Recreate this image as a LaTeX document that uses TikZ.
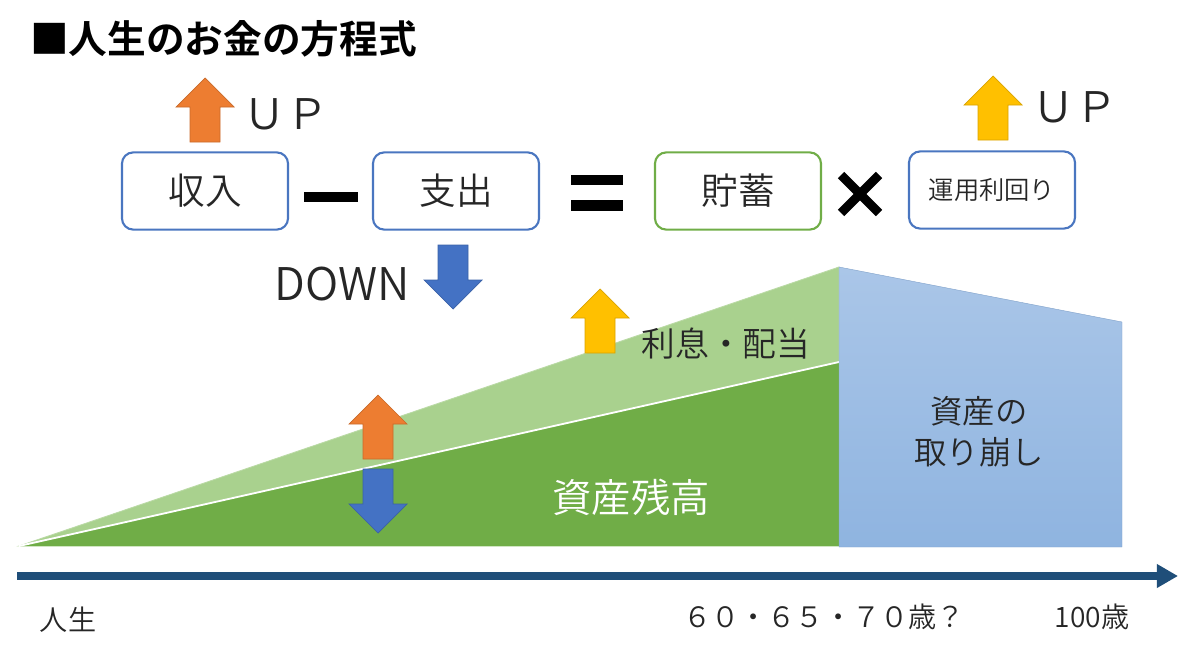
\documentclass[tikz,border=0pt]{standalone}
\usepackage{fontspec}
\IfFontExistsTF{Noto Sans CJK JP DemiLight}
  {\setmainfont{Noto Sans CJK JP DemiLight}[BoldFont={Noto Sans CJK JP Bold}]}
  {\IfFontExistsTF{Noto Sans CJK JP Light}
    {\setmainfont{Noto Sans CJK JP Light}[BoldFont={Noto Sans CJK JP Bold}]}
    {\setmainfont{Noto Sans CJK JP}}}
\usepackage{tikz}
\usetikzlibrary{arrows.meta, positioning, calc}
\definecolor{arrorange}{RGB}{237,125,49}
\definecolor{arrblue}{RGB}{68,114,196}
\definecolor{arryellow}{RGB}{255,192,0}
\definecolor{boxblue}{RGB}{74,118,192}
\definecolor{boxgreen}{RGB}{112,173,71}
\definecolor{darkgreen}{RGB}{112,173,71}
\definecolor{lightgreen}{RGB}{169,209,142}
\definecolor{blueTop}{RGB}{170,198,232}
\definecolor{blueBot}{RGB}{143,180,224}
\definecolor{axisblue}{RGB}{31,78,121}
\definecolor{txtgray}{RGB}{38,38,38}
\tikzset{
  eqbox/.style={rectangle, draw=boxblue, fill=white,
    minimum width=4.15cm, minimum height=1.93cm,
    rounded corners=8pt, line width=1.5pt, text=txtgray,
    font=\fontsize{26}{30}\selectfont},
  greenbox/.style={eqbox, draw=boxgreen},
  lbl/.style={text=txtgray, inner sep=0pt},
  opbar/.style={fill=black},
  blockarrow/.pic={
    \filldraw[pic actions] (0,-32) -- (29,-3) -- (15,-3) -- (15,32)
      -- (-15,32) -- (-15,-3) -- (-29,-3) -- cycle;
  },
  orangearr/.style={fill=arrorange, draw=arrorange!85!black, line width=0.5pt},
  bluearr/.style={fill=arrblue, draw=arrblue!85!black, line width=0.5pt},
  yellowarr/.style={fill=arryellow, draw=arryellow!85!black, line width=0.5pt}
}
\begin{document}
\begin{tikzpicture}[x=0.025cm, y=-0.025cm]
  \useasboundingbox (0,0) rectangle (1200,657);
  % Title
  \node[anchor=west, inner sep=0pt, font=\fontsize{27.5}{32}\selectfont\bfseries] (title) at (30,39) {■人生のお金の方程式};
  % Equation boxes
  \node[eqbox] (inc) at (205,191) {収入};
  \node[eqbox] (exp) at (456,191) {支出};
  \node[greenbox] (sav) at (738,191) {貯蓄};
  \node[eqbox, font=\fontsize{18}{21}\selectfont] (yld) at (992,190) {運用利回り};
  % Operators
  \fill[opbar] (304,192) rectangle (358,202);
  \fill[opbar] (571,175) rectangle (623,185);
  \fill[opbar] (571,200) rectangle (623,211);
  \draw[line width=6.5pt] (841,175) -- (879,213);
  \draw[line width=6.5pt] (879,175) -- (841,213);
  % UP / DOWN hints
  \pic[orangearr] at (205,110) {blockarrow};
  \node[lbl, font=\fontsize{30}{34}\selectfont] (incup) at (286,114) {ＵＰ};
  \pic[bluearr, rotate=180] at (453,277) {blockarrow};
  \node[lbl, font=\fontsize{32}{36}\selectfont] (expdown) at (342,284) {DOWN};
  \pic[yellowarr] at (993,108) {blockarrow};
  \node[lbl, font=\fontsize{30}{34}\selectfont] (yldup) at (1075,107) {ＵＰ};
  % Asset curve
  \coordinate (origin) at (19,546);
  \coordinate (peak) at (839,267);
  \coordinate (mid) at (839,362);
  \coordinate (base) at (839,546);
  \coordinate (endtop) at (1122,322);
  \coordinate (endbot) at (1122,547);
  \filldraw[fill=lightgreen, draw=lightgreen!80!white, line width=0.6pt] (origin) -- (peak) -- (base) -- cycle;
  \fill[darkgreen] (origin) -- (mid) -- (base) -- cycle;
  \draw[white, line width=1.3pt] (origin) -- (mid);
  \path[top color=blueTop, bottom color=blueBot, draw=blueBot!90!black, line width=0.3pt] (peak) -- (endtop) -- (endbot) -- (839,547) -- cycle;
  % Labels in the areas
  \pic[yellowarr] at (600,321) {blockarrow};
  \node[lbl, font=\fontsize{24}{28}\selectfont] (intr) at (726,344) {利息・配当};
  \node[lbl, text=white, font=\fontsize{28}{32}\selectfont] (bal) at (631,497) {資産残高};
  \node[lbl, align=center, font=\fontsize{23}{29}\selectfont] (draw) at (979,432) {資産の\\取り崩し};
  \pic[orangearr] at (378,427) {blockarrow};
  \pic[bluearr, rotate=180] at (378,501) {blockarrow};
  % Time axis
  \coordinate (axstart) at (17,576);
  \coordinate (axend) at (1178,576);
  \draw[axisblue, line width=5pt, -{Triangle[length=15pt, width=16pt]}] (axstart) -- (axend);
  \node[lbl, font=\fontsize{20}{24}\selectfont] (life) at (68,620) {人生};
  \node[lbl, font=\fontsize{20}{24}\selectfont] (retire) at (824,617) {６０・６５・７０歳？};
  \node[lbl, font=\fontsize{20}{24}\selectfont] (hundred) at (1092,617) {100歳};
\end{tikzpicture}
\end{document}
